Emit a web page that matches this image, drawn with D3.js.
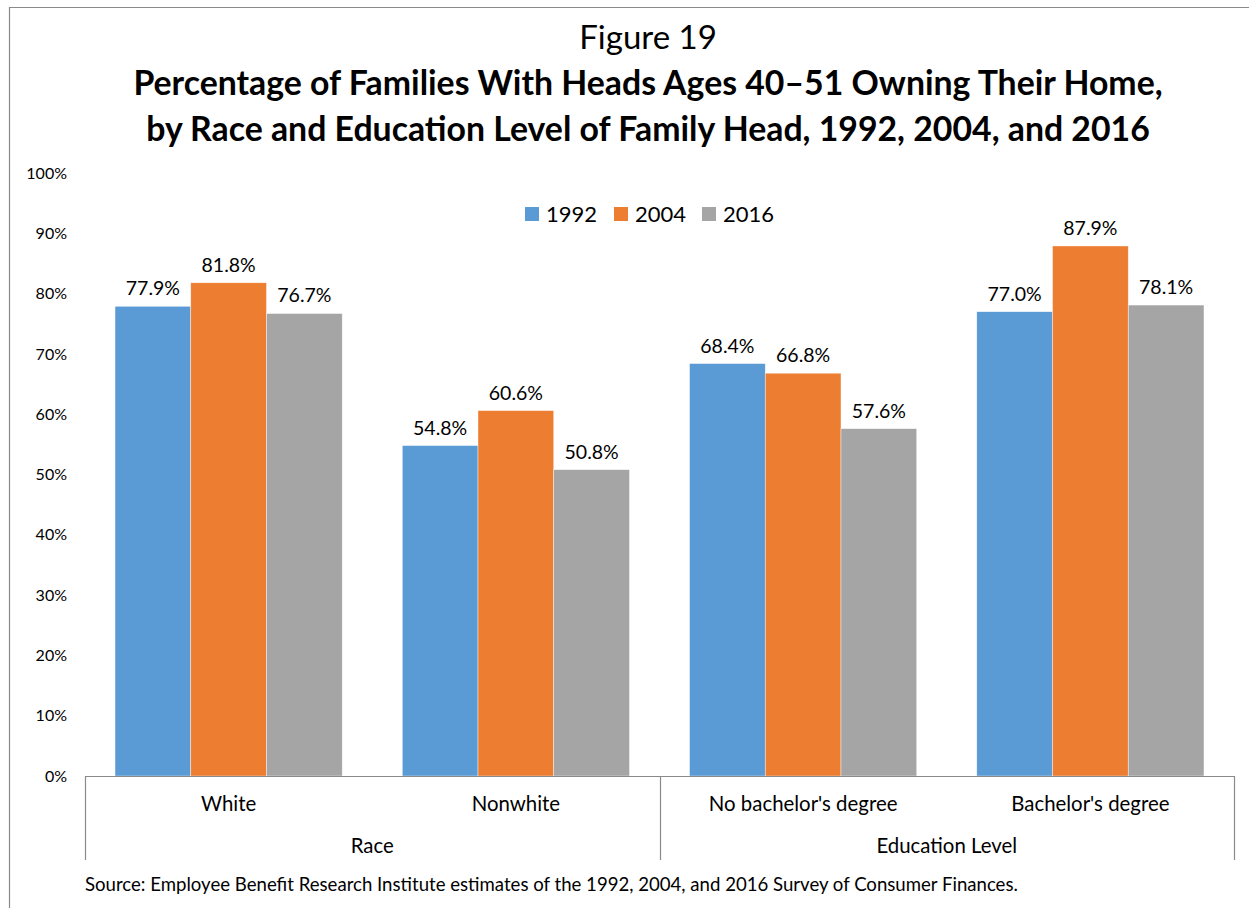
<!DOCTYPE html>
<html>
<head>
<meta charset="utf-8">
<script src="https://cdn.jsdelivr.net/npm/d3@7"></script>
<style>
  html, body { margin: 0; padding: 0; background: #fff; }
  svg { display: block; font-family: Lato, "Open Sans", sans-serif; }
</style>
</head>
<body>
<svg id="chart" width="1249" height="908"></svg>
<script>
// Home ownership, families with heads aged 40–51
const categories = ["White", "Nonwhite", "No bachelor's degree", "Bachelor's degree"];
const groups = ["Race", "Education Level"];
const groupSizes = [2, 2];
const years = ["1992", "2004", "2016"];
const values1992 = [77.9, 54.8, 68.4, 77.0];
const values2004 = [81.8, 60.6, 66.8, 87.9];
const values2016 = [76.7, 50.8, 57.6, 78.1];
const yTicks = [0, 10, 20, 30, 40, 50, 60, 70, 80, 90, 100];
const colors = ["#5B9BD5", "#ED7D31", "#A5A5A5"];

const seriesValues = [values1992, values2004, values2016];

const svg = d3.select("#chart");

// Outer frame (top and left edges visible)
svg.append("path")
  .attr("d", "M9.5,908 V7.5 H1249")
  .attr("fill", "none")
  .attr("stroke", "#8a8a8a")
  .attr("stroke-width", 1.2);

// Titles
svg.append("text").attr("x", 648).attr("y", 49).attr("text-anchor", "middle")
  .attr("font-size", 33).attr("fill", "#000").text("Figure 19");
svg.append("text").attr("x", 648).attr("y", 95).attr("text-anchor", "middle")
  .attr("font-size", 33.8).attr("font-weight", "bold").attr("fill", "#000")
  .text("Percentage of Families With Heads Ages 40–51 Owning Their Home,");
svg.append("text").attr("x", 648).attr("y", 141).attr("text-anchor", "middle")
  .attr("font-size", 33.8).attr("font-weight", "bold").attr("fill", "#000")
  .text("by Race and Education Level of Family Head, 1992, 2004, and 2016");

// Scales
const plotLeft = 85, plotRight = 1234, plotTop = 173, plotBottom = 776;
const x = d3.scaleBand().domain(categories).range([plotLeft, plotRight]).paddingInner(0.209).paddingOuter(0.1045);
const xs = d3.scaleBand().domain(years).range([0, x.bandwidth()]);
const y = d3.scaleLinear().domain([0, 100]).range([plotBottom, plotTop]);

// Y axis labels (no axis line, no gridlines)
const yAxis = d3.axisLeft(y).tickValues(yTicks).tickFormat(d => d + "%").tickSize(0).tickPadding(0);
const gy = svg.append("g").attr("transform", `translate(67,0)`).call(yAxis);
gy.select(".domain").remove();
gy.selectAll("text").attr("font-size", 16).attr("fill", "#000").attr("font-family", "Lato, sans-serif");

// Bars
const data = [];
categories.forEach((c, i) => years.forEach((yr, j) => data.push({ c, yr, j, v: seriesValues[j][i] })));

svg.append("g").selectAll("rect").data(data).join("rect")
  .attr("x", d => x(d.c) + xs(d.yr))
  .attr("y", d => y(d.v))
  .attr("width", xs.bandwidth())
  .attr("height", d => y(0) - y(d.v))
  .attr("fill", d => colors[d.j])
  .attr("stroke", "#fff").attr("stroke-width", 0.6).attr("stroke-opacity", 0.7);

// Data labels
svg.append("g").selectAll("text").data(data).join("text")
  .attr("x", d => x(d.c) + xs(d.yr) + xs.bandwidth() / 2)
  .attr("y", d => y(d.v) - 11)
  .attr("text-anchor", "middle")
  .attr("font-size", 19.5).attr("fill", "#000")
  .text(d => d.v.toFixed(1) + "%");

// Category axis with two levels
const step = x.step();
const axisG = svg.append("g").attr("stroke", "#8a8a8a").attr("stroke-width", 1.2).attr("fill", "none");
axisG.append("line").attr("x1", plotLeft).attr("x2", plotRight).attr("y1", plotBottom + 0.5).attr("y2", plotBottom + 0.5);
let acc = 0;
const bounds = [plotLeft];
groupSizes.forEach(n => { acc += n; bounds.push(plotLeft + acc * step); });
bounds.forEach(bx => {
  axisG.append("line").attr("x1", Math.round(bx) + 0.5).attr("x2", Math.round(bx) + 0.5)
    .attr("y1", plotBottom).attr("y2", 860);
});

svg.append("g").selectAll("text").data(categories).join("text")
  .attr("x", d => x(d) + x.bandwidth() / 2)
  .attr("y", 811)
  .attr("text-anchor", "middle")
  .attr("font-size", 20.4).attr("fill", "#000")
  .text(d => d);

svg.append("g").selectAll("text").data(groups).join("text")
  .attr("x", (d, i) => (bounds[i] + bounds[i + 1]) / 2)
  .attr("y", 853)
  .attr("text-anchor", "middle")
  .attr("font-size", 20.4).attr("fill", "#000")
  .text(d => d);

// Legend
const legendX = [525, 614, 702];
const legend = svg.append("g").selectAll("g").data(years).join("g")
  .attr("transform", (d, i) => `translate(${legendX[i]},207)`);
legend.append("rect").attr("width", 14).attr("height", 14).attr("fill", (d, i) => colors[i]);
legend.append("text").attr("x", 21).attr("y", 14.5).attr("font-size", 22).attr("fill", "#000").text(d => d);

// Source note
svg.append("text").attr("x", 85).attr("y", 891)
  .attr("font-size", 18.6).attr("fill", "#000")
  .text("Source: Employee Benefit Research Institute estimates of the 1992, 2004, and 2016 Survey of Consumer Finances.");
</script>
</body>
</html>
